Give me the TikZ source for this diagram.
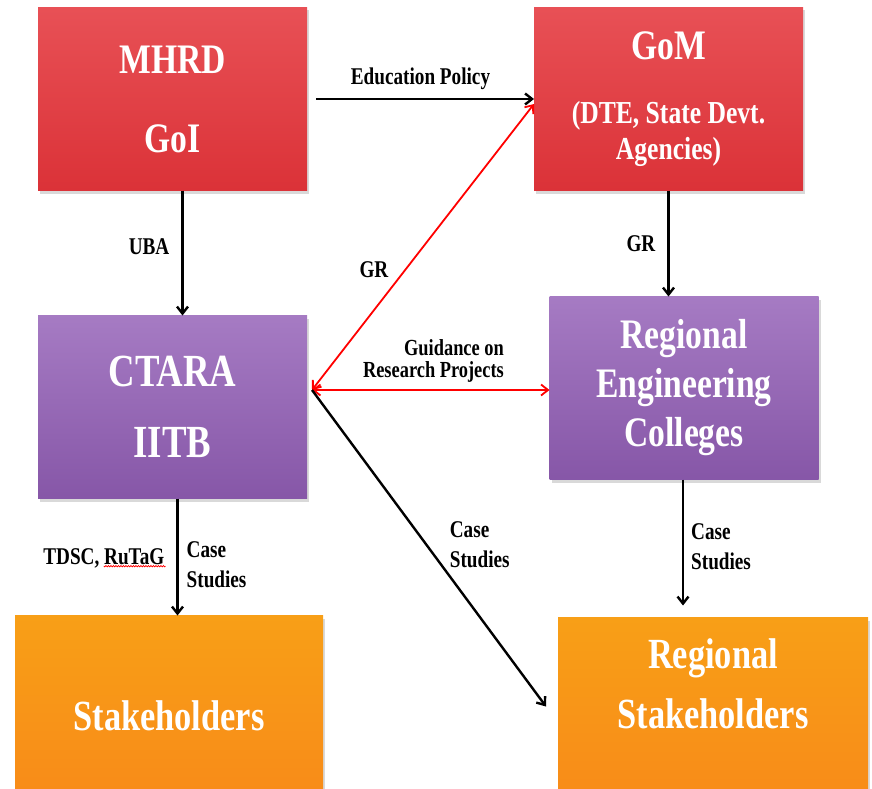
\documentclass[tikz,border=0pt]{standalone}
\usepackage{fontspec}
\setmainfont{Liberation Serif}[FakeStretch=0.8]
\usetikzlibrary{arrows.meta, positioning, shadows, decorations.pathmorphing}
\definecolor{govred}{RGB}{228, 52, 58}
\definecolor{ctarapurple}{RGB}{146, 94, 182}
\definecolor{stakeorange}{RGB}{247, 146, 26}
\newcommand{\subline}{\fontsize{32}{34}\selectfont}

\begin{document}
\begin{tikzpicture}[
        x=1pt, y=-1pt,
        block/.style={rectangle, inner sep=0pt, outer sep=0pt,
                      minimum width=269pt, minimum height=183pt,
                      align=center, text=white,
                      font=\bfseries\fontsize{42}{46}\selectfont,
                      drop shadow={shadow xshift=2pt, shadow yshift=-3pt, opacity=0.3}},
        redblock/.style={block, top color=govred!86!white, bottom color=govred!96!black},
        purpleblock/.style={block, top color=ctarapurple!82!white, bottom color=ctarapurple!92!black},
        orangeblock/.style={block, minimum height=200pt, font=\bfseries\fontsize{43}{60}\selectfont,
                      top color=stakeorange!88!yellow, bottom color=stakeorange!94!red},
        lbl/.style={inner sep=2pt, align=left, text=black, font=\bfseries\fontsize{24}{30}\selectfont},
        arrow/.style={-{Straight Barb[length=7pt, width=11pt]}, line width=2.4pt},
        redarrow/.style={{Straight Barb[length=7pt, width=11pt]}-{Straight Barb[length=7pt, width=11pt]},
                      red, line width=1.8pt},
        spell/.style={red, line width=0.7pt, decorate,
                      decoration={snake, amplitude=0.7pt, segment length=2.5pt}},
    ]
        \useasboundingbox (0,0) rectangle (872,789);

        \node[redblock] (mhrd) at (172.5,99) {MHRD\\[33pt]GoI};
        \node[redblock, right=227pt of mhrd] (gom)
            {GoM\\[18pt]\subline(DTE, State Devt.\\[-10pt]\subline Agencies)};
        \node[purpleblock, below=125pt of mhrd, font=\bfseries\fontsize{46}{50}\selectfont] (ctara)
            {CTARA\\[21pt]IITB};
        \node[purpleblock, below=106pt of gom, xshift=15.5pt, font=\bfseries\fontsize{42}{49}\selectfont] (rec)
            {Regional\\Engineering\\Colleges};
        \node[orangeblock, minimum width=308pt, below=117pt of ctara, xshift=-3.5pt] (stake) {Stakeholders};
        \node[orangeblock, minimum width=310pt, below=138pt of rec, xshift=29pt] (rs) {};
        \node[lbl, text=white, align=center, font=\bfseries\fontsize{43}{60}\selectfont]
            (rslabel) at ([yshift=34pt]rs.center) {Regional\\Stakeholders};

        \draw[arrow, shorten <=9pt] (mhrd) -- (gom)
            node[lbl, midway, above=6pt] {Education Policy};
        \draw[arrow] ([xshift=10pt]mhrd.south) -- ([xshift=10pt]ctara.north)
            node[lbl, pos=0.45, left=10pt] {UBA};
        \draw[arrow] (gom.south) -- (gom.south |- rec.north)
            node[lbl, midway, left=10pt] {GR};

        % links out of CTARA
        \coordinate (hub) at ([xshift=5pt, yshift=17pt]ctara.east);
        \draw[redarrow] (hub) -- ([yshift=-5pt]gom.west)
            node[lbl, pos=0.42, left=14pt] {GR};
        \draw[redarrow] (hub) -- (hub -| rec.west)
            node[lbl, pos=0.82, anchor=south east, yshift=5pt, align=right,
                 font=\bfseries\fontsize{23}{22}\selectfont] {Guidance on\\Research Projects};
        \draw[arrow] (hub) -- ([xshift=-12pt, yshift=11pt]rs.west)
            node[lbl, pos=0.49, right=20pt] {Case\\Studies};

        \draw[arrow] ([xshift=5pt]ctara.south) -- ([xshift=5pt]ctara.south |- stake.north)
            node[lbl, pos=0.51, left=10pt] (tdsc) {TDSC, RuTaG}
            node[lbl, pos=0.57, right=6pt] {Case\\Studies};
        \draw[spell] ([xshift=-2pt, yshift=5pt]tdsc.south east) -- ++(-62,0);

        \draw[arrow, shorten >=12pt] ([xshift=-1pt]rec.south) -- ([xshift=-1pt]rec.south |- rs.north)
            node[lbl, pos=0.49, right=5pt] {Case\\Studies};

    \end{tikzpicture}
\end{document}
